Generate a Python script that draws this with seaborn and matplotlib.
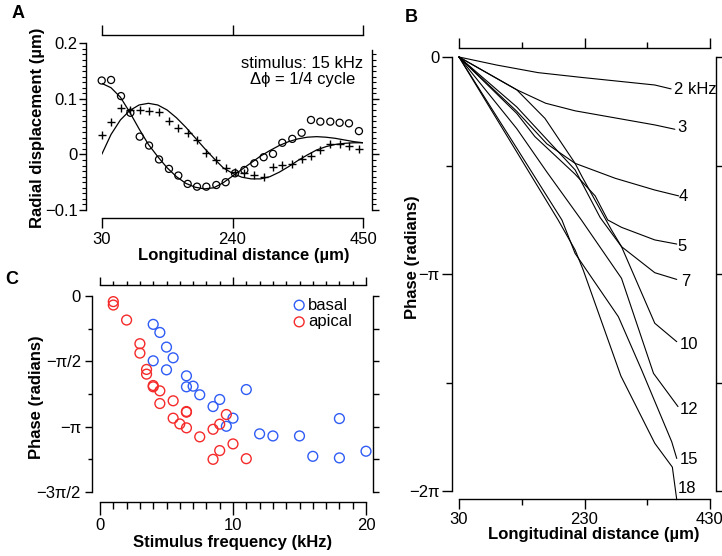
import numpy as np
import pandas as pd
import matplotlib
matplotlib.use("Agg")
import matplotlib.pyplot as plt
import seaborn as sns
from matplotlib.ticker import FixedLocator, NullFormatter, MultipleLocator

# ---------------- Panel A data ----------------
a_x = [30, 45, 61, 76, 91, 106, 122, 138, 153, 168, 183, 198, 214, 229,
       244, 259, 275, 290, 305, 320, 336, 351, 366, 381, 397, 412, 427, 443]
a_circ = [0.133, 0.134, 0.105, 0.075, 0.032, 0.016, -0.009, -0.026, -0.038, -0.053,
          -0.058, -0.058, -0.055, -0.050, -0.034, -0.028, -0.016, -0.005, 0.001, 0.021,
          0.028, 0.039, 0.062, 0.059, 0.059, 0.057, 0.056, 0.042]
a_plus = [0.035, 0.058, 0.084, 0.080, 0.080, 0.078, 0.077, 0.061, 0.047, 0.038,
          0.026, 0.003, -0.010, -0.025, -0.031, -0.034, -0.037, -0.040, -0.022, -0.019,
          -0.017, -0.008, -0.003, 0.008, 0.019, 0.019, 0.015, 0.010]
a_fit_x = [30, 45, 60, 75, 90, 105, 120, 135, 150, 165, 180, 195, 210, 225, 240,
           255, 270, 285, 300, 315, 330, 345, 360, 375, 390, 405, 420, 435, 450]
a_fit_circ = [0.128, 0.120, 0.103, 0.076, 0.046, 0.018, -0.004, -0.024, -0.040, -0.052,
              -0.059, -0.062, -0.060, -0.051, -0.039, -0.027, -0.015, -0.003, 0.007, 0.016,
              0.023, 0.028, 0.031, 0.032, 0.031, 0.029, 0.026, 0.023, 0.021]
a_fit_plus = [0.000, 0.036, 0.062, 0.079, 0.089, 0.092, 0.089, 0.080, 0.066, 0.049,
              0.030, 0.011, -0.007, -0.024, -0.034, -0.041, -0.044, -0.044, -0.040, -0.032,
              -0.022, -0.011, -0.001, 0.008, 0.014, 0.018, 0.020, 0.021, 0.021]

# ---------------- Panel B data (phase in units of pi) ----------------
b_freqs = ["2 kHz", "3", "4", "5", "7", "10", "12", "15", "18"]
b_x = {
    "2 kHz": [30, 90, 156, 225, 342, 368],
    "3": [30, 122, 168, 215, 342, 374],
    "4": [30, 122, 170, 215, 279, 342, 380],
    "5": [30, 122, 151, 215, 247, 267, 289, 342, 377],
    "7": [30, 122, 170, 215, 255, 289, 342, 377],
    "10": [30, 122, 167, 215, 226, 273, 289, 342, 377],
    "12": [30, 122, 170, 225, 289, 340, 379],
    "15": [30, 122, 194, 215, 284, 321, 369, 377],
    "18": [30, 188, 215, 228, 288, 342, 370, 377],
}
b_phase = {
    "2 kHz": [0, -0.037, -0.072, -0.094, -0.129, -0.147],
    "3": [0, -0.151, -0.213, -0.248, -0.313, -0.333],
    "4": [0, -0.25, -0.40, -0.49, -0.559, -0.613, -0.640],
    "5": [0, -0.26, -0.367, -0.54, -0.64, -0.751, -0.785, -0.843, -0.862],
    "7": [0, -0.23, -0.38, -0.52, -0.74, -0.874, -0.994, -1.025],
    "10": [0, -0.151, -0.283, -0.49, -0.551, -0.797, -0.874, -1.227, -1.312],
    "12": [0, -0.33, -0.53, -0.751, -1.02, -1.458, -1.611],
    "15": [0, -0.42, -0.751, -0.905, -1.197, -1.442, -1.773, -1.850],
    "18": [0, -0.751, -0.889, -0.982, -1.47, -1.78, -1.89, -2.04],
}
b_label_x = [372.6, 377.4, 380.6, 377.4, 383.8, 382.2, 382.2, 382.2, 379.0]
b_label_y = [-0.1475, -0.326, -0.644, -0.874, -1.035, -1.327, -1.624, -1.857, -1.988]

# ---------------- Panel C data (phase in units of pi) ----------------
basal_f = [4, 4.5, 5, 5.5, 4, 5, 6.5, 6.5, 7, 7.5, 11, 9, 8.5, 10, 9.5, 18, 12, 13, 15, 16, 18, 20]
basal_p = [-0.217, -0.279, -0.391, -0.473, -0.496, -0.565, -0.611, -0.695, -0.690, -0.756,
           -0.716, -0.792, -0.846, -0.935, -0.997, -0.938, -1.055, -1.071, -1.071, -1.227,
           -1.239, -1.188]
apical_f = [1, 1, 2, 3, 3, 3.5, 3.5, 4, 4, 4.5, 4.5, 5.5, 5.5, 6, 6.5, 6.5, 6.5, 7.5,
            8.5, 9, 9.5, 10, 9, 8.5, 11]
apical_p = [-0.043, -0.069, -0.184, -0.365, -0.437, -0.562, -0.598, -0.685, -0.695, -0.726,
            -0.823, -0.802, -0.935, -0.979, -0.884, -0.889, -1.009, -1.078, -1.020, -0.981,
            -0.907, -1.132, -1.183, -1.250, -1.245]

# ---------------- Style ----------------
sns.set_style("ticks", {"axes.edgecolor": "black", "xtick.color": "black",
                        "ytick.color": "black", "text.color": "black",
                        "axes.labelcolor": "black"})
plt.rcParams["font.family"] = ["Liberation Sans", "DejaVu Sans"]
plt.rcParams["axes.linewidth"] = 1.0
plt.rcParams["xtick.labelsize"] = 12
plt.rcParams["ytick.labelsize"] = 12
plt.rcParams["axes.labelsize"] = 12
plt.rcParams["axes.labelweight"] = "bold"

W, H = 722, 556
fig = plt.figure(figsize=(W / 100, H / 100), dpi=100)


def add_axes(x0, y0, x1, y1):
    return fig.add_axes([x0 / W, 1 - y1 / H, (x1 - x0) / W, (y1 - y0) / H])


def finish(ax):
    ax.spines["top"].set_visible(False)
    ax.spines["right"].set_visible(False)
    ax.set_facecolor("none")


# ================= Panel A =================
axA = add_axes(101.7, 43.3, 363.3, 210)
dfA = pd.DataFrame({"x": a_x, "circ": a_circ, "plus": a_plus})
dfAf = pd.DataFrame({"x": a_fit_x, "circ": a_fit_circ, "plus": a_fit_plus})
sns.lineplot(data=dfAf, x="x", y="circ", ax=axA, color="black", lw=0.9)
sns.lineplot(data=dfAf, x="x", y="plus", ax=axA, color="black", lw=0.9)
sns.scatterplot(data=dfA, x="x", y="circ", ax=axA, marker="o", s=26,
                facecolor="none", edgecolor="black", linewidth=0.9, clip_on=False, zorder=3)
sns.scatterplot(data=dfA, x="x", y="plus", ax=axA, marker="+", s=34,
                color="black", linewidth=1.0, clip_on=False, zorder=3)
axA.set_xlim(30, 450)
axA.set_ylim(-0.1, 0.2)
finish(axA)
axA.spines["left"].set_position(("outward", 11.3))
axA.spines["bottom"].set_position(("outward", 6))
axA.set_xticks([30, 240, 450], labels=["30", "240", "450"])
axA.set_yticks([0.2, 0.1, 0, -0.1], labels=["0.2", "0.1", "0", "\u22120.1"])
axA.yaxis.set_minor_locator(MultipleLocator(0.01))
axA.tick_params(axis="y", which="major", length=5, width=1, pad=1)
axA.tick_params(axis="y", which="minor", length=3, width=0.8)
axA.tick_params(axis="x", which="major", length=7, width=1, pad=3)
axA.set_xlabel("Longitudinal distance (\u00b5m)")
axA.set_ylabel("Radial displacement (\u00b5m)")
axA.xaxis.label.set_va("center")
axA.xaxis.set_label_coords(0.544, -0.27)
axA.yaxis.label.set_va("center")
axA.yaxis.set_label_coords(-0.247, 0.495)
axA.text(352, 0.1645, "stimulus: 15 kHz", ha="center", va="center", fontsize=12)
axA.text(353, 0.1357, "\u0394\u03d5 = 1/4 cycle", ha="center", va="center", fontsize=12)

tA = axA.secondary_xaxis(1.05)
tA.set_xticks([30, 240, 450])
tA.xaxis.set_major_formatter(NullFormatter())
tA.tick_params(length=7, width=1)
rA = axA.secondary_yaxis(1.032)
rA.set_yticks([0.1, 0, -0.1])
rA.yaxis.set_minor_locator(FixedLocator(list(np.round(np.arange(-0.1, 0.185, 0.01), 2))))
rA.yaxis.set_major_formatter(NullFormatter())
rA.tick_params(which="major", length=5, width=1)
rA.tick_params(which="minor", length=3, width=0.8)
rA.spines["right"].set_bounds(-0.1, 0.188)

# ================= Panel B =================
axB = add_axes(459, 57, 710, 491)
rows = []
for f in b_freqs:
    for xv, pv in zip(b_x[f], b_phase[f]):
        rows.append({"freq": f, "x": xv, "phase": pv * np.pi})
dfB = pd.DataFrame(rows)
sns.lineplot(data=dfB, x="x", y="phase", units="freq", estimator=None, sort=False,
             ax=axB, color="black", lw=0.8, clip_on=False)
for lab, lx, ly in zip(b_freqs, b_label_x, b_label_y):
    axB.text(lx, ly * np.pi, lab, ha="left", va="center", fontsize=12, clip_on=False)
axB.set_xlim(30, 430)
axB.set_ylim(-2 * np.pi, 0)
finish(axB)
axB.spines["left"].set_position(("outward", 5))
axB.spines["bottom"].set_position(("outward", 5.8))
axB.set_xticks([30, 230, 430], labels=["30", "230", "430"])
axB.xaxis.set_minor_locator(FixedLocator([130, 330]))
axB.set_yticks([0, -np.pi, -2 * np.pi], labels=["0", "\u2212\u03c0", "\u22122\u03c0"])
axB.yaxis.set_minor_locator(FixedLocator([-np.pi / 2, -3 * np.pi / 2]))
axB.tick_params(which="major", length=7, width=1, pad=2)
axB.tick_params(which="minor", length=4, width=1)
axB.set_xlabel("Longitudinal distance (\u00b5m)")
axB.set_ylabel("Phase (radians)")
axB.xaxis.label.set_va("center")
axB.xaxis.set_label_coords(0.538, -0.101)
axB.yaxis.label.set_va("center")
axB.yaxis.set_label_coords(-0.187, 0.539)

tB = axB.secondary_xaxis(1.0207)
tB.set_xticks([30, 230, 430])
tB.xaxis.set_minor_locator(FixedLocator([130, 330]))
tB.xaxis.set_major_formatter(NullFormatter())
tB.tick_params(which="major", length=7, width=1)
tB.tick_params(which="minor", length=4, width=1)
rB = axB.secondary_yaxis(1.024)
rB.set_yticks([0, -np.pi / 2, -np.pi, -3 * np.pi / 2, -2 * np.pi])
rB.yaxis.set_major_formatter(NullFormatter())
rB.tick_params(length=4, width=1)

# ================= Panel C =================
axC = add_axes(100, 296, 366, 492)
dfC_b = pd.DataFrame({"f": basal_f, "p": np.array(basal_p) * np.pi})
dfC_a = pd.DataFrame({"f": apical_f, "p": np.array(apical_p) * np.pi})
blue, red = "#2f5cf5", "#f52a2a"
sns.scatterplot(data=dfC_b, x="f", y="p", ax=axC, marker="o", s=50, color=blue,
                facecolor="none", edgecolor=blue, linewidth=1.0, label="basal", clip_on=False)
sns.scatterplot(data=dfC_a, x="f", y="p", ax=axC, marker="o", s=50, color=red,
                facecolor="none", edgecolor=red, linewidth=1.0, label="apical", clip_on=False)
axC.set_xlim(0, 20)
axC.set_ylim(-1.5 * np.pi, 0)
finish(axC)
axC.spines["left"].set_position(("outward", 5.8))
axC.spines["bottom"].set_position(("outward", 7))
axC.set_xticks([0, 10, 20], labels=["0", "10", "20"])
axC.xaxis.set_minor_locator(MultipleLocator(1))
axC.set_yticks([0, -np.pi / 2, -np.pi, -1.5 * np.pi],
               labels=["0", "\u2212\u03c0/2", "\u2212\u03c0", "\u22123\u03c0/2"])
axC.yaxis.set_minor_locator(FixedLocator([-np.pi / 4, -3 * np.pi / 4, -5 * np.pi / 4]))
axC.tick_params(axis="x", which="major", length=9, width=1, pad=3)
axC.tick_params(axis="x", which="minor", length=5, width=1)
axC.tick_params(axis="y", which="major", length=5, width=1, pad=3)
axC.tick_params(axis="y", which="minor", length=3, width=1)
axC.set_xlabel("Stimulus frequency (kHz)")
axC.set_ylabel("Phase (radians)")
axC.xaxis.label.set_va("center")
axC.xaxis.set_label_coords(0.5, -0.26)
axC.yaxis.label.set_va("center")
axC.yaxis.set_label_coords(-0.237, 0.485)
axC.legend(loc="upper left", bbox_to_anchor=(0.73, 0.992), frameon=False,
           handlelength=0.6, handletextpad=0.25, borderpad=0, borderaxespad=0,
           labelspacing=0.1, fontsize=12)

tC = axC.secondary_xaxis(1.056)
tC.set_xticks([0, 10, 20])
tC.xaxis.set_minor_locator(MultipleLocator(1))
tC.xaxis.set_major_formatter(NullFormatter())
tC.tick_params(which="major", length=6, width=1)
tC.tick_params(which="minor", length=3, width=1)
rC = axC.secondary_yaxis(1.0275)
rC.set_yticks([0, -np.pi / 4, -np.pi / 2, -3 * np.pi / 4, -np.pi, -5 * np.pi / 4, -1.5 * np.pi])
rC.yaxis.set_major_formatter(NullFormatter())
rC.tick_params(length=4, width=1)

# panel letters
fig.text(18 / W, 1 - 13.5 / H, "A", ha="center", va="center", fontsize=13, fontweight="bold")
fig.text(411 / W, 1 - 17 / H, "B", ha="center", va="center", fontsize=13, fontweight="bold")
fig.text(12 / W, 1 - 280 / H, "C", ha="center", va="center", fontsize=13, fontweight="bold")

fig.savefig("out.png", dpi=100)
